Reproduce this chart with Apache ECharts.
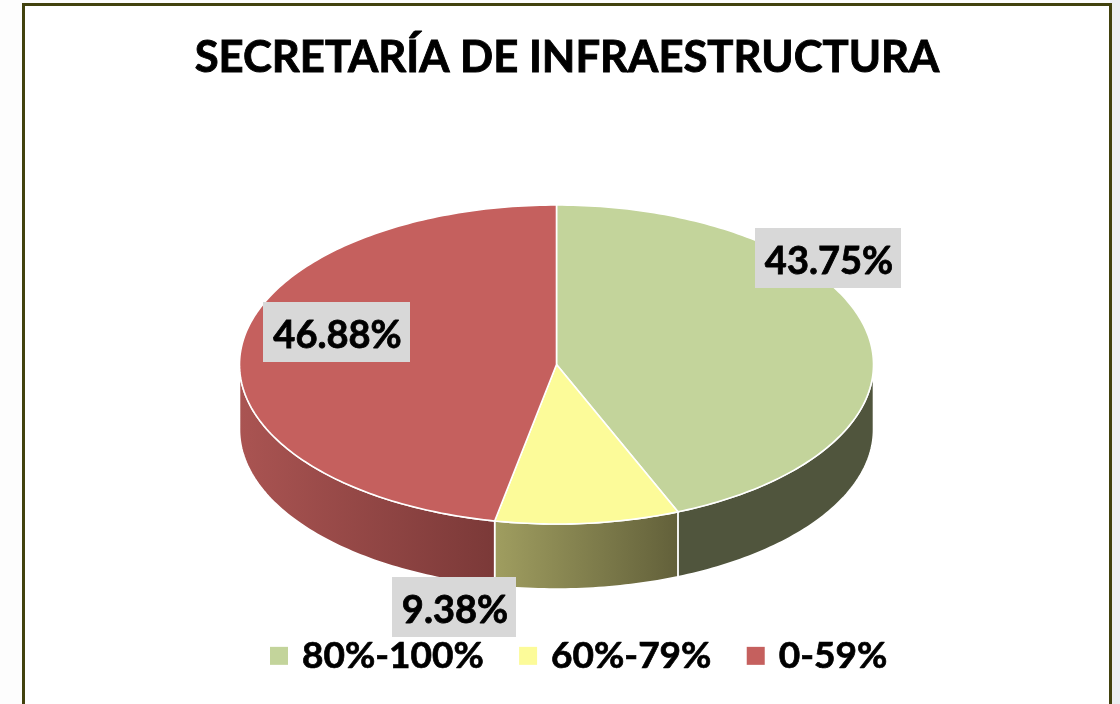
<!DOCTYPE html>
<html>
<head>
<meta charset="utf-8">
<style>html,body{margin:0;padding:0;background:#fdfdfd}#c{width:1120px;height:704px}</style>
<script src="https://cdn.jsdelivr.net/npm/echarts@6/dist/echarts.min.js"></script>
</head>
<body>
<div id="c"></div>
<script>
const titleText = 'SECRETARÍA DE INFRAESTRUCTURA';
const categories = ['80%-100%', '60%-79%', '0-59%'];
const values = [43.75, 9.38, 46.88];
const valueLabels = ['43.75%', '9.38%', '46.88%'];
const topColors = ['#c3d49b', '#fcfb99', '#c5605e'];
const sideLeft = ['#50553d', '#a09e60', '#aa5452'];
const sideRight = ['#50553d', '#62603a', '#7b3938'];
const labelCenters = [[828, 258], [454, 607], [336.5, 332]];
const LABEL_W = [146, 124, 147];

const CX = 556.5, CY = 364.5, RX = 317, RY = 159.5, DEPTH = 65;
const total = values.reduce((a, b) => a + b, 0);
const pt = (deg, dy) => {
  const t = deg * Math.PI / 180;
  return [CX + RX * Math.sin(t), CY + (dy || 0) - RY * Math.cos(t)];
};
const arc = (a, b, dy) => {
  const n = Math.max(2, Math.ceil(Math.abs(b - a)));
  const out = [];
  for (let i = 0; i <= n; i++) out.push(pt(a + (b - a) * i / n, dy));
  return out;
};

function makeRender(index) {
  return function (params, api) {
    const v = api.value(0);
    let before = 0;
    for (let i = 0; i < index; i++) before += values[i];
    const a = before / total * 360, b = (before + v) / total * 360;
    const children = [];
    const sa = Math.max(a, 90), sb = Math.min(b, 270);
    if (sb > sa) {
      const front = arc(sa, sb, 0), back = arc(sa, sb, DEPTH).reverse();
      children.push({
        type: 'polygon', z2: 1,
        shape: { points: front.concat(back) },
        style: {
          fill: new echarts.graphic.LinearGradient(0, 0, 1, 0, [
            { offset: 0, color: sideLeft[index] },
            { offset: 1, color: sideRight[index] }
          ]),
          stroke: '#ffffff', lineWidth: 1.6
        }
      });
    }
    children.push({
      type: 'polygon', z2: 2,
      shape: { points: [[CX, CY]].concat(arc(a, b, 0)) },
      style: { fill: topColors[index], stroke: '#ffffff', lineWidth: 1.6 }
    });
    const c = labelCenters[index];
    children.push({
      type: 'rect', z2: 5,
      shape: { x: c[0] - LABEL_W[index] / 2, y: c[1] - 30, width: LABEL_W[index], height: 60 },
      style: { fill: '#d8d8d8' }
    });
    children.push({
      type: 'text', z2: 6, x: c[0] + 1, y: c[1] + 3.5,
      style: {
        text: valueLabels[index], fill: '#000000', align: 'center', verticalAlign: 'middle',
        font: 'bold 38px Lato', stroke: '#000000', lineWidth: 0.8
      }
    });
    return { type: 'group', children: children };
  };
}

const chart = echarts.init(document.getElementById('c'), null, { renderer: 'canvas' });
chart.setOption({
  animation: false,
  backgroundColor: '#fdfdfd',
  title: {
    text: titleText, left: 562, top: 31, textAlign: 'center',
    textStyle: { fontFamily: 'Lato', fontWeight: 'bold', fontSize: 43.6, color: '#000000', textBorderColor: '#000000', textBorderWidth: 0.9 }
  },
  legend: {
    data: categories, left: 270, top: 637, padding: 0, icon: 'rect',
    itemWidth: 18, itemHeight: 18, itemGap: 35,
    textStyle: { fontFamily: 'Lato', fontWeight: 'bold', fontSize: 37, color: '#000000', padding: [0, 0, 0, 9], textBorderColor: '#000000', textBorderWidth: 0.7 }
  },
  graphic: [{
    type: 'rect', z: -10,
    shape: { x: 1110, y: 0, width: 10, height: 704 },
    style: { fill: '#eceef2' }
  }, {
    type: 'rect', z: -9,
    shape: { x: 23.5, y: 4.5, width: 1087, height: 760 },
    style: { fill: '#ffffff', stroke: '#42420e', lineWidth: 3 }
  }],
  series: categories.map((name, i) => ({
    type: 'custom', name: name, coordinateSystem: 'none', z: 3,
    itemStyle: { color: topColors[i] },
    renderItem: makeRender(i),
    data: [{ name: name, value: values[i] }]
  }))
});
</script>
</body>
</html>
